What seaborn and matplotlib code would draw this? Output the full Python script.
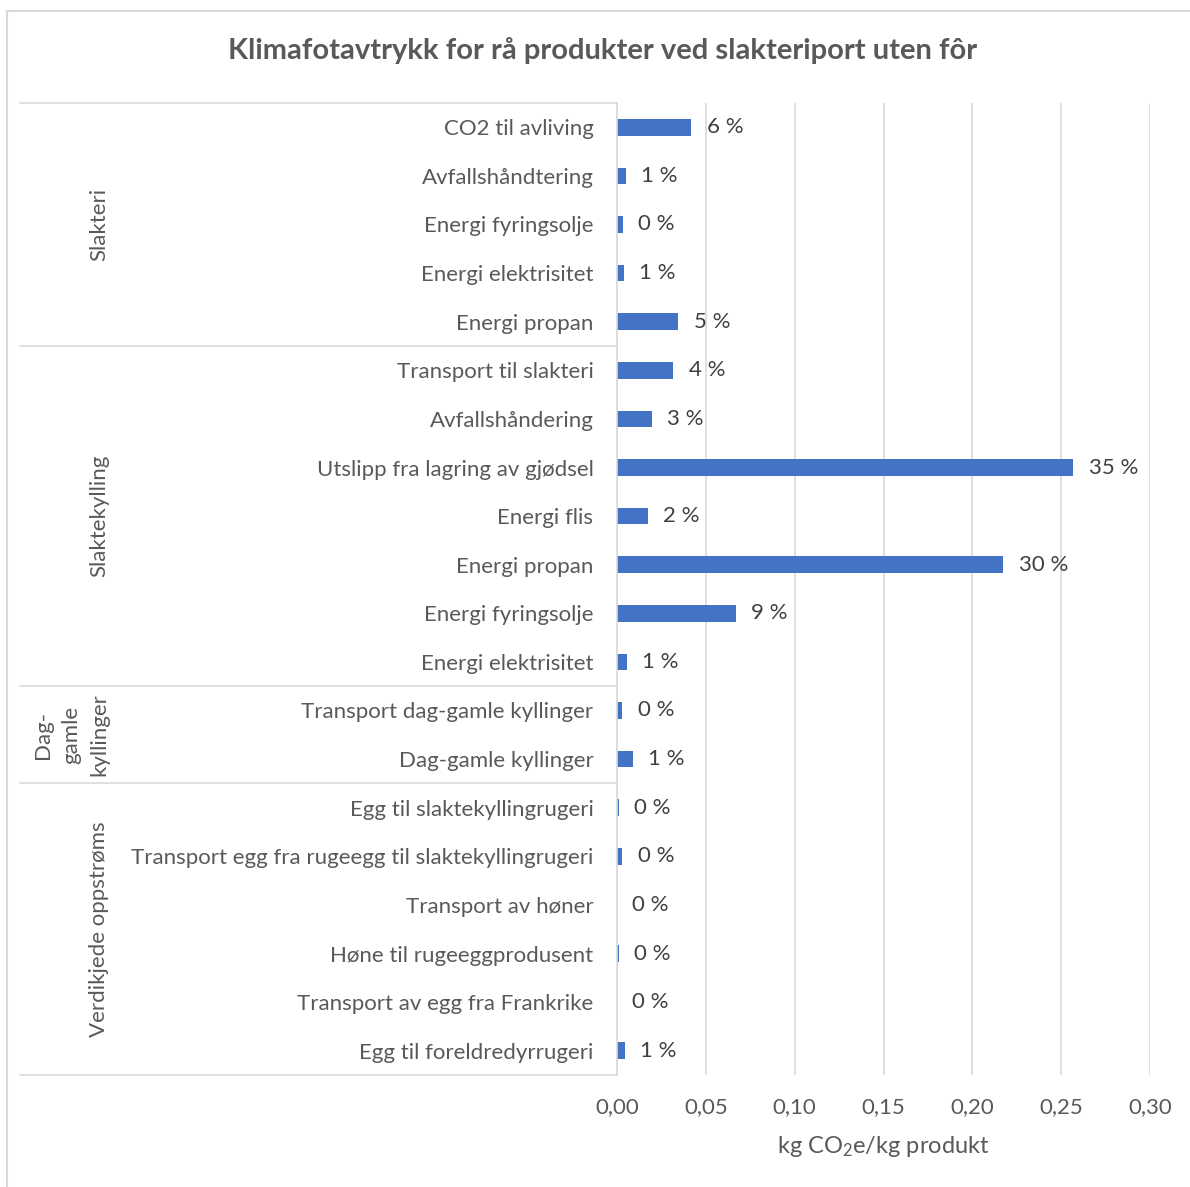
import matplotlib
matplotlib.use("Agg")
import matplotlib.pyplot as plt
import matplotlib.transforms as mtransforms
from matplotlib.lines import Line2D
import numpy as np
import pandas as pd
import seaborn as sns

# ---- data (kg CO2e per kg produkt) ----
group_names = ["Slakteri", "Slaktekylling", "Dag-\ngamle\nkyllinger", "Verdikjede oppstrøms"]

slakteri_items = ["CO2 til avliving", "Avfallshåndtering", "Energi fyringsolje",
                  "Energi elektrisitet", "Energi propan"]
slakteri_values = [0.0418, 0.0049, 0.0033, 0.0038, 0.0345]

slaktekylling_items = ["Transport til slakteri", "Avfallshåndering",
                       "Utslipp fra lagring av gjødsel", "Energi flis", "Energi propan",
                       "Energi fyringsolje", "Energi elektrisitet"]
slaktekylling_values = [0.0317, 0.0196, 0.2568, 0.0174, 0.2174, 0.0670, 0.0056]

daggamle_items = ["Transport dag-gamle kyllinger", "Dag-gamle kyllinger"]
daggamle_values = [0.0030, 0.0091]

oppstrom_items = ["Egg til slaktekyllingrugeri",
                  "Transport egg fra rugeegg til slaktekyllingrugeri",
                  "Transport av høner", "Høne til rugeeggprodusent",
                  "Transport av egg fra Frankrike", "Egg til foreldredyrrugeri"]
oppstrom_values = [0.0012, 0.0030, 0.0001, 0.0012, 0.0001, 0.0046]

x_ticks = [0.00, 0.05, 0.10, 0.15, 0.20, 0.25, 0.30]
x_tick_labels = ["0,00", "0,05", "0,10", "0,15", "0,20", "0,25", "0,30"]

title = "Klimafotavtrykk for rå produkter ved slakteriport uten fôr"

# ---- table for seaborn ----
item_lists = [slakteri_items, slaktekylling_items, daggamle_items, oppstrom_items]
value_lists = [slakteri_values, slaktekylling_values, daggamle_values, oppstrom_values]
rows = []
for g, items, vals in zip(group_names, item_lists, value_lists):
    for it, v in zip(items, vals):
        rows.append({"gruppe": g, "post": it, "key": f"{g}|{it}", "verdi": v})
df = pd.DataFrame(rows)
total = df["verdi"].sum()
pct_labels = [f"{round(v / total * 100):.0f} %" for v in df["verdi"]]

# ---- styling ----
sns.set_style("white")
plt.rcParams["font.family"] = ["Lato", "DejaVu Sans"]
plt.rcParams["mathtext.fontset"] = "custom"
plt.rcParams["mathtext.rm"] = "Lato"
plt.rcParams["mathtext.it"] = "Lato:italic"

BAR = "#4472C4"
GRID = "#D9D9D9"
TXT = "#595959"
LBL = "#404040"
FS = 16

W, H = 1190, 1187
fig = plt.figure(figsize=(W / 100, H / 100), dpi=100)
fig.patch.set_facecolor("white")

ax_left, ax_right, ax_top, ax_bottom = 617, 1150, 103, 1075
ax = fig.add_axes([ax_left / W, 1 - ax_bottom / H,
                   (ax_right - ax_left) / W, (ax_bottom - ax_top) / H])

sns.barplot(data=df, x="verdi", y="key", orient="h", color=BAR, saturation=1,
            width=0.34, ax=ax, linewidth=0, errorbar=None)

ax.set_xlim(0, 0.30)
ax.set_xticks(x_ticks)
ax.set_xticklabels(x_tick_labels, fontsize=FS, color=TXT)
ax.set_yticks(range(len(df)))
ax.set_yticklabels(df["post"], fontsize=FS, color=TXT)
ax.tick_params(axis="both", length=0)
ax.tick_params(axis="y", pad=17)
ax.tick_params(axis="x", pad=16)
ax.set_ylabel("")
ax.set_xlabel("kg CO$_2$e/kg produkt", fontsize=FS + 1, color=TXT, labelpad=12)

ax.grid(axis="x", color=GRID, linewidth=1.2)
ax.grid(axis="y", visible=False)
ax.set_axisbelow(True)
for s in ["top", "right", "bottom"]:
    ax.spines[s].set_visible(False)
ax.spines["left"].set_color(GRID)
ax.spines["left"].set_linewidth(1.2)

ax.bar_label(ax.containers[0], labels=pct_labels, padding=11,
             fontsize=FS, color=LBL)

# ---- group table on the left ----
tr = mtransforms.blended_transform_factory(fig.transFigure, ax.transData)
sizes = [len(v) for v in value_lists]
bounds = np.concatenate([[0], np.cumsum(sizes)]) - 0.5
for b in bounds:
    fig.add_artist(Line2D([20 / W, ax_left / W], [b, b], transform=tr,
                          color=GRID, linewidth=1.2))
for g, lo, hi in zip(group_names, bounds[:-1], bounds[1:]):
    fig.text(109 / W, (lo + hi) / 2, g, transform=tr, rotation=90,
             ha="right", va="center", multialignment="center",
             fontsize=FS, color=TXT, linespacing=1.5)

# ---- title and chart frame ----
fig.text(603 / W, 1 - 50 / H, title, ha="center", va="center",
         fontsize=21, fontweight="bold", color=TXT)
fig.add_artist(Line2D([7 / W, 7 / W], [0, 1 - 11 / H], transform=fig.transFigure,
                      color=GRID, linewidth=1.5))
fig.add_artist(Line2D([7 / W, 1], [1 - 11 / H, 1 - 11 / H], transform=fig.transFigure,
                      color=GRID, linewidth=1.5))

fig.savefig("out.png", dpi=100, facecolor="white")
